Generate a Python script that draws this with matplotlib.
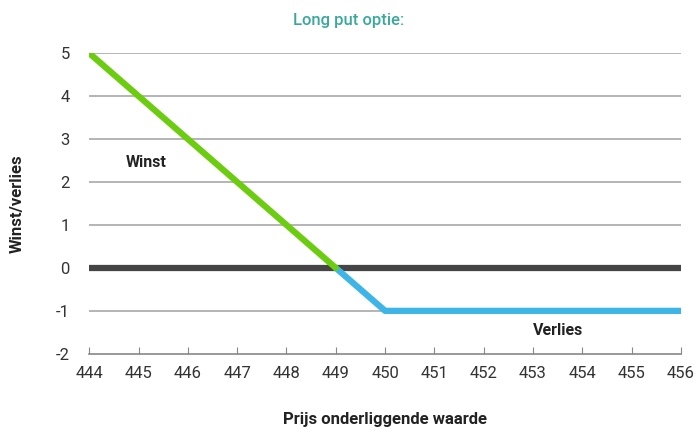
import matplotlib.pyplot as plt

prijs_winst = [444, 449]
winst = [5, 0]
prijs_verlies = [449, 450, 456]
verlies = [0, -1, -1]
x_ticks = list(range(444, 457))
y_ticks = list(range(-2, 6))

plt.rcParams['font.family'] = ['Roboto', 'DejaVu Sans']

fig = plt.figure(figsize=(6.97, 4.32), dpi=100)
ax = fig.add_axes([0.128, 0.181, 0.849, 0.696])

# gridlijnen
for y in y_ticks[1:]:
    if y != 0:
        ax.axhline(y, color='#a8a8a8', lw=1.2, zorder=1)
ax.axhline(0, color='#454545', lw=4.5, zorder=2)

ax.plot(prijs_verlies, verlies, color='#3db5e6', lw=4.5, zorder=3, solid_capstyle='round')
ax.plot(prijs_winst, winst, color='#6ccc10', lw=4.5, zorder=4, solid_capstyle='round')

ax.text(445.15, 2.45, 'Winst', fontsize=11.5, fontweight='bold', color='#222222',
        ha='center', va='center')
ax.text(453.5, -1.45, 'Verlies', fontsize=11.5, fontweight='bold', color='#222222',
        ha='center', va='center')

ax.set_xlim(444, 456)
ax.set_ylim(-2, 5)
ax.set_xticks(x_ticks)
ax.set_yticks(y_ticks)
ax.set_yticklabels(['-2', '-1', '0', '1', '2', '3', '4', '5'])
ax.tick_params(axis='x', direction='in', length=5, color='#888888', labelsize=12,
               labelcolor='#333333', pad=9)
ax.tick_params(axis='y', length=0, labelsize=12, labelcolor='#333333', pad=14)
for s in ['top', 'right', 'left']:
    ax.spines[s].set_visible(False)
ax.spines['bottom'].set_color('#888888')
ax.spines['bottom'].set_linewidth(1.2)

ax.set_xlabel('Prijs onderliggende waarde', fontsize=12, fontweight='bold',
              color='#222222', labelpad=22)
ax.set_ylabel('Winst/verlies', fontsize=12, fontweight='bold', color='#222222',
              labelpad=22)
fig.text(0.5, 0.953, 'Long put optie:', fontsize=12, fontweight='medium',
         color='#3aa99b', ha='center', va='center')

plt.savefig('out.png', dpi=100)
